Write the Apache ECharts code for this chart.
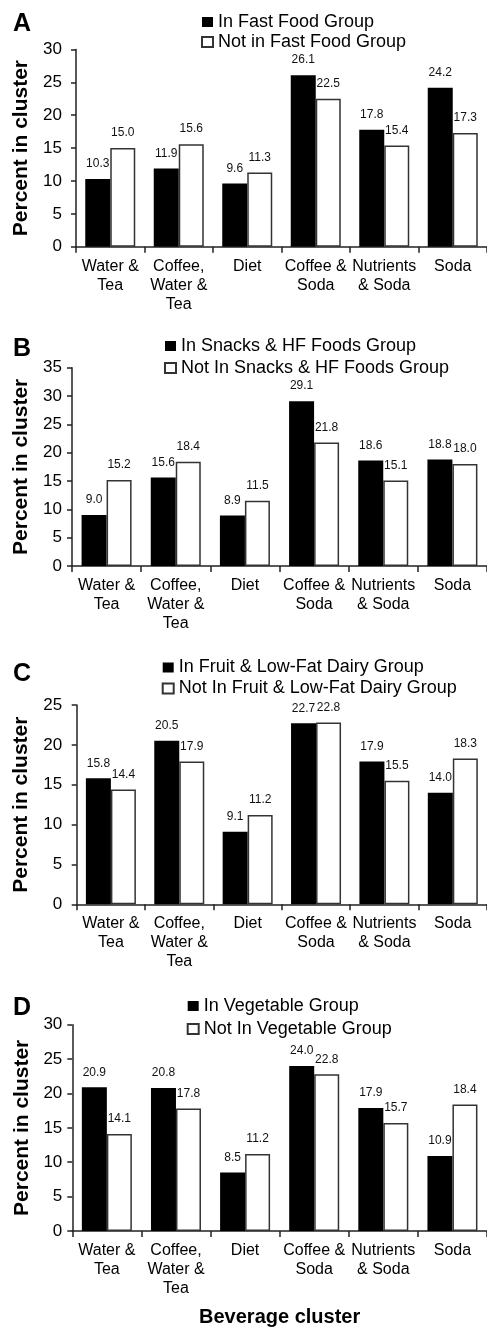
<!DOCTYPE html>
<html>
<head>
<meta charset="utf-8">
<script src="https://cdn.jsdelivr.net/npm/echarts@6/dist/echarts.min.js"></script>
<style>html,body{margin:0;padding:0;background:#fff}#c{width:487px;height:1328px}</style>
</head>
<body>
<div id="c"></div>
<script>
var categories = ['Water &\nTea', 'Coffee,\nWater &\nTea', 'Diet', 'Coffee &\nSoda', 'Nutrients\n& Soda', 'Soda'];
var panelLetters = ['A', 'B', 'C', 'D'];
var inNames = ['In Fast Food Group', 'In Snacks & HF Foods Group', 'In Fruit & Low-Fat Dairy Group', 'In Vegetable Group'];
var notNames = ['Not in Fast Food Group', 'Not In Snacks & HF Foods Group', 'Not In Fruit & Low-Fat Dairy Group', 'Not In Vegetable Group'];
var inA = [10.3, 11.9, 9.6, 26.1, 17.8, 24.2];
var notA = [15.0, 15.6, 11.3, 22.5, 15.4, 17.3];
var inB = [9.0, 15.6, 8.9, 29.1, 18.6, 18.8];
var notB = [15.2, 18.4, 11.5, 21.8, 15.1, 18.0];
var inC = [15.8, 20.5, 9.1, 22.7, 17.9, 14.0];
var notC = [14.4, 17.9, 11.2, 22.8, 15.5, 18.3];
var inD = [20.9, 20.8, 8.5, 24.0, 17.9, 10.9];
var notD = [14.1, 17.8, 11.2, 22.8, 15.7, 18.4];
var yMax = [30, 35, 25, 30];
var yInterval = 5;
var yName = 'Percent in cluster';
var xName = 'Beverage cluster';

var inData = [inA, inB, inC, inD];
var notData = [notA, notB, notC, notD];

var FONT = 'Liberation Sans, Arial, sans-serif';
// layout (pixels)
var grids = [
  {left: 76, right: 0, top: 49.5, height: 197.2},
  {left: 72, right: 0, top: 367.7, height: 198.3},
  {left: 76.7, right: 0, top: 705, height: 199.3},
  {left: 72.3, right: 0, top: 1024.7, height: 207}
];
var nameGaps = [43.5, 40, 44.5, 40];
var labelMargins = [14, 10, 14.5, 10];
var legendPos = [
  {left: 201, top: 12, lh: 20},
  {left: 164, top: 335, lh: 22},
  {left: 161.7, top: 657, lh: 21},
  {left: 186.7, top: 994.5, lh: 23}
];
var letterPos = [[13, 24], [13, 349], [13, 674], [13, 1008]];

var axisColor = '#222';
var option = {
  animation: false,
  backgroundColor: '#fff',
  textStyle: {fontFamily: FONT, color: '#000'},
  grid: grids.map(function (g) { return Object.assign({containLabel: false}, g); }),
  xAxis: [],
  yAxis: [],
  legend: [],
  series: [],
  graphic: []
};

for (var i = 0; i < 4; i++) {
  option.xAxis.push({
    type: 'category',
    gridIndex: i,
    data: categories,
    boundaryGap: true,
    axisLine: {lineStyle: {color: axisColor, width: 1.5}},
    axisTick: {show: true, length: 6, interval: 0, lineStyle: {color: axisColor, width: 1.5}},
    axisLabel: {interval: 0, fontSize: 16, lineHeight: 19, color: '#000', margin: 10, fontFamily: FONT},
    splitLine: {show: false},
    name: i === 3 ? xName : '',
    nameLocation: 'middle',
    nameGap: 76,
    nameTextStyle: {fontSize: 20, fontWeight: 'bold', color: '#000', fontFamily: FONT}
  });
  option.yAxis.push({
    type: 'value',
    gridIndex: i,
    min: 0,
    max: yMax[i],
    interval: yInterval,
    axisLine: {show: true, lineStyle: {color: axisColor, width: 1.5}},
    axisTick: {show: true, length: 5, lineStyle: {color: axisColor, width: 1.5}},
    axisLabel: {fontSize: 17, color: '#000', margin: labelMargins[i], fontFamily: FONT},
    splitLine: {show: false},
    name: yName,
    nameLocation: 'middle',
    nameRotate: 90,
    nameGap: nameGaps[i],
    nameTextStyle: {fontSize: 21, fontWeight: 'bold', color: '#000', fontFamily: FONT}
  });
  var lbl = {
    show: true, position: 'top', distance: 9, fontSize: 12, color: '#111', fontFamily: FONT,
    formatter: function (p) { return Number(p.value).toFixed(1); }
  };
  option.series.push({
    type: 'bar', name: inNames[i], xAxisIndex: i, yAxisIndex: i,
    data: inData[i], barWidth: 25, barGap: '0%',
    itemStyle: {color: '#000', borderColor: '#000', borderWidth: 0},
    label: lbl
  });
  option.series.push({
    type: 'bar', name: notNames[i], xAxisIndex: i, yAxisIndex: i,
    data: notData[i], barWidth: 25, barGap: '0%',
    itemStyle: {color: '#fff', borderColor: '#333', borderWidth: 1.5},
    label: lbl
  });
  var lp = legendPos[i];
  option.legend.push({
    data: [inNames[i], notNames[i]],
    orient: 'vertical',
    left: lp.left,
    top: lp.top,
    padding: 0,
    itemGap: 0,
    itemWidth: 11,
    itemHeight: 10,
    icon: 'rect',
    selectedMode: false,
    textStyle: {fontSize: 18, lineHeight: lp.lh, color: '#000', fontFamily: FONT}
  });
  option.graphic.push({
    type: 'text',
    x: letterPos[i][0],
    y: letterPos[i][1],
    style: {text: panelLetters[i], font: 'bold 25px ' + FONT, fill: '#000', textAlign: 'left', textVerticalAlign: 'middle', verticalAlign: 'middle'}
  });
}

var chart = echarts.init(document.getElementById('c'), null, {renderer: 'canvas'});
chart.setOption(option);
</script>
</body>
</html>
